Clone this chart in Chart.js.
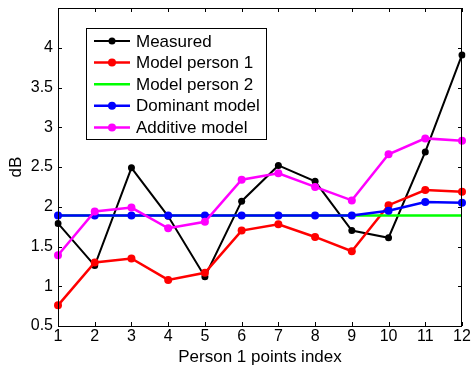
<!DOCTYPE html>
<html>
<head>
<meta charset="utf-8">
<script src="https://cdn.jsdelivr.net/npm/chart.js@4"></script>
<style>
  html, body { margin: 0; padding: 0; background: #fff; }
  #wrap { width: 472px; height: 368px; }
</style>
</head>
<body>
<div id="wrap"><canvas id="c" width="472" height="368"></canvas></div>
<script>
// donnees
const xLabels = [1, 2, 3, 4, 5, 6, 7, 8, 9, 10, 11, 12];
const yTicks = [0.5, 1, 1.5, 2, 2.5, 3, 3.5, 4];
const measured = [1.79, 1.26, 2.49, 1.88, 1.12, 2.07, 2.52, 2.32, 1.70, 1.61, 2.69, 3.91];
const person1 = [0.76, 1.30, 1.35, 1.08, 1.17, 1.70, 1.78, 1.62, 1.44, 2.02, 2.21, 2.19];
const person2 = [1.89, 1.89, 1.89, 1.89, 1.89, 1.89, 1.89, 1.89, 1.89, 1.89, 1.89, 1.89];
const dominant = [1.89, 1.89, 1.89, 1.89, 1.89, 1.89, 1.89, 1.89, 1.89, 1.95, 2.06, 2.05];
const additive = [1.39, 1.94, 1.99, 1.73, 1.81, 2.34, 2.42, 2.25, 2.08, 2.66, 2.86, 2.83];

const FONT = 'Liberation Sans, Arial, Helvetica, sans-serif';
Chart.defaults.font.family = FONT;
Chart.defaults.font.size = 16;
Chart.defaults.color = '#000';

function serie(label, data, color, width, radius, order) {
  return {
    label: label,
    data: data,
    borderColor: color,
    backgroundColor: color,
    borderWidth: width,
    pointRadius: radius,
    pointBorderWidth: 0,
    pointHoverRadius: radius,
    tension: 0,
    order: order
  };
}

// cadre, graduations interieures et legende encadree
const boxPlugin = {
  id: 'box',
  afterDraw(chart) {
    const ctx = chart.ctx;
    const a = chart.chartArea;
    const xs = chart.scales.x, ys = chart.scales.y;
    ctx.save();
    ctx.strokeStyle = '#000';
    ctx.lineWidth = 1;
    ctx.strokeRect(a.left + 0.5, a.top + 0.5, a.right - a.left - 1, a.bottom - a.top);
    const t = 4;
    ctx.beginPath();
    xLabels.forEach((l, i) => {
      const px = Math.round(xs.getPixelForValue(i)) + 0.5;
      ctx.moveTo(px, a.bottom); ctx.lineTo(px, a.bottom - t);
      ctx.moveTo(px, a.top); ctx.lineTo(px, a.top + t);
    });
    yTicks.forEach(v => {
      const py = Math.round(ys.getPixelForValue(v)) + 0.5;
      ctx.moveTo(a.left, py); ctx.lineTo(a.left + t, py);
      ctx.moveTo(a.right, py); ctx.lineTo(a.right - t, py);
    });
    ctx.stroke();

    // legende
    const lx = 86, ly = 28, lw = 180, lh = 111;
    ctx.fillStyle = '#fff';
    ctx.fillRect(lx, ly, lw, lh);
    ctx.strokeRect(lx + 0.5, ly + 0.5, lw, lh);
    ctx.font = '17px ' + FONT;
    ctx.textBaseline = 'middle';
    chart.data.datasets.forEach((ds, i) => {
      const y = 41 + i * 21.6;
      ctx.strokeStyle = ds.borderColor;
      ctx.lineWidth = ds.borderWidth;
      ctx.beginPath();
      ctx.moveTo(94, y); ctx.lineTo(130, y);
      ctx.stroke();
      if (ds.pointRadius > 0) {
        ctx.fillStyle = ds.borderColor;
        ctx.beginPath();
        ctx.arc(112, y, ds.pointRadius, 0, Math.PI * 2);
        ctx.fill();
      }
      ctx.fillStyle = '#000';
      ctx.fillText(ds.label, 136, y + 1);
    });
    ctx.restore();
  }
};

new Chart(document.getElementById('c'), {
  type: 'line',
  data: {
    labels: xLabels,
    datasets: [
      serie('Measured', measured, '#000000', 2, 3.5, 5),
      serie('Model person 1', person1, '#ff0000', 2.5, 4, 4),
      serie('Model person 2', person2, '#00ff00', 2.5, 0, 3),
      serie('Dominant model', dominant, '#0000ff', 2.5, 4, 2),
      serie('Additive model', additive, '#ff00ff', 2.5, 4, 1)
    ]
  },
  options: {
    responsive: false,
    animation: false,
    devicePixelRatio: 1,
    layout: { padding: { left: 0, right: 10, top: 8, bottom: 0 } },
    plugins: {
      legend: { display: false },
      tooltip: { enabled: false }
    },
    scales: {
      x: {
        type: 'category',
        offset: false,
        grid: { display: false, drawTicks: false, tickLength: 0 },
        border: { display: false },
        ticks: { padding: 1, maxRotation: 0, autoSkip: false, font: { size: 16 } },
        title: { display: true, text: 'Person 1 points index', padding: 0, font: { size: 17 } },
        afterFit(s) { s.height = 42; s.paddingLeft = 0; s.paddingRight = 0; }
      },
      y: {
        type: 'linear',
        min: 0.5,
        max: 4.5,
        grid: { display: false, drawTicks: false, tickLength: 0 },
        border: { display: false },
        afterBuildTicks(s) { s.ticks = yTicks.map(v => ({ value: v })); },
        ticks: { padding: 5, font: { size: 16 }, callback: v => String(v) },
        title: { display: true, text: 'dB', padding: { top: 6, bottom: 0 }, font: { size: 17 } },
        afterFit(s) { s.width = 58; s.paddingTop = 0; s.paddingBottom = 0; }
      }
    }
  },
  plugins: [boxPlugin]
});
</script>
</body>
</html>
